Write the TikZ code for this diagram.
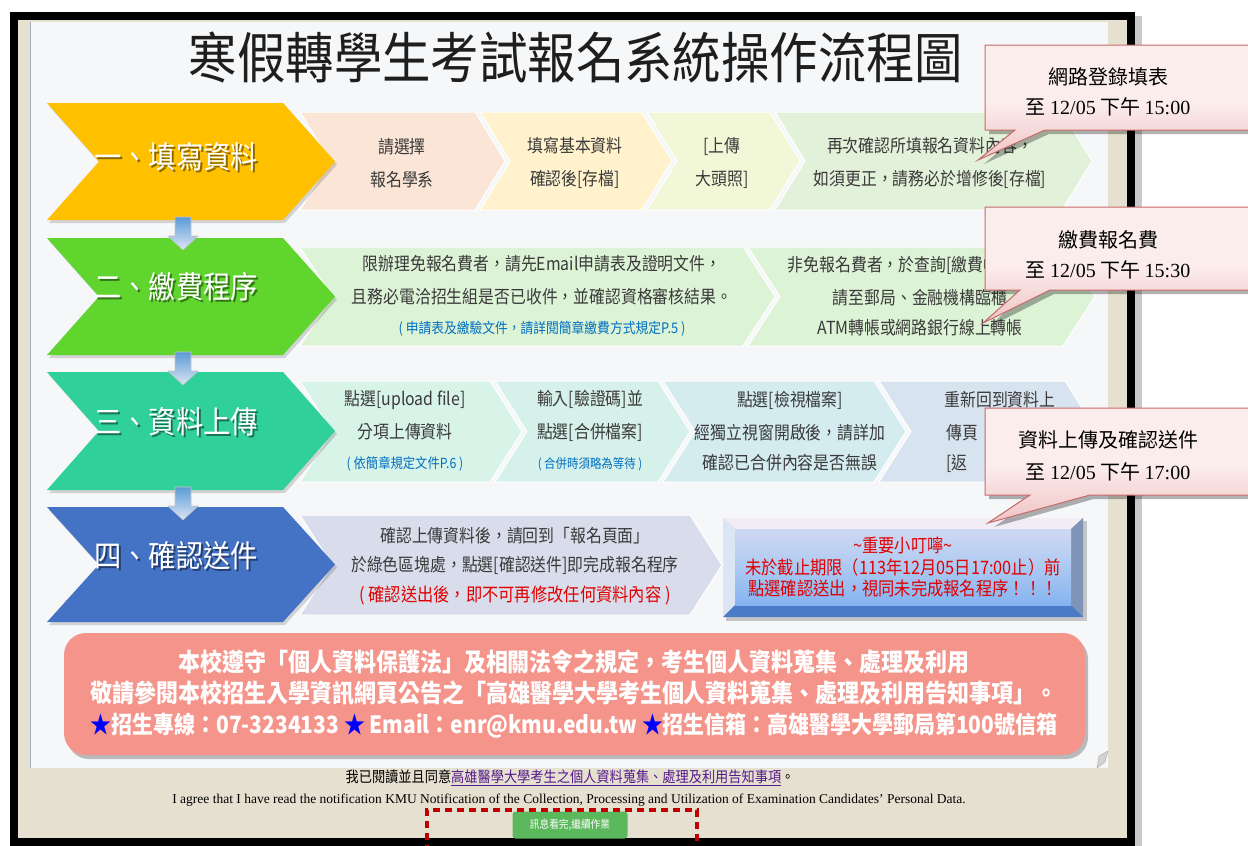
\documentclass[tikz,border=0pt]{standalone}
\usepackage{fontspec}
\setmainfont{Noto Sans CJK TC}
\newfontfamily\cjk{Noto Sans CJK TC}
\newfontfamily\cjkn[FakeStretch=0.88]{Noto Sans CJK TC}
\newfontfamily\tms{Liberation Serif}
\usetikzlibrary{calc}
\definecolor{frameBeige}{HTML}{E5E0D0}
\definecolor{panelBg}{HTML}{F5F7F9}
\definecolor{panelLine}{HTML}{9FB0C4}
\definecolor{bigYellow}{HTML}{FFC000}
\definecolor{bigGreen}{HTML}{5FD52E}
\definecolor{bigTeal}{HTML}{2FD09A}
\definecolor{bigBlue}{HTML}{4472C4}
\definecolor{peach}{HTML}{FBE5D6}
\definecolor{lyellow}{HTML}{FFF2CC}
\definecolor{lygreen}{HTML}{F2F7D7}
\definecolor{lgreen}{HTML}{E2F1D9}
\definecolor{lgreenB}{HTML}{DDF3D6}
\definecolor{mintA}{HTML}{D8F3E8}
\definecolor{mintB}{HTML}{D6F0EA}
\definecolor{cyanA}{HTML}{D4ECF0}
\definecolor{lblueA}{HTML}{D7E3EF}
\definecolor{grayB}{HTML}{D9DDEB}
\definecolor{txt}{HTML}{3A3A3A}
\definecolor{bluetxt}{HTML}{0070C0}
\definecolor{redtxt}{HTML}{E00000}
\definecolor{pinkbox}{HTML}{F4948A}
\definecolor{starblue}{HTML}{0000FF}
\definecolor{linkpurple}{HTML}{551A8B}
\definecolor{btngreen}{HTML}{5CB85C}
\definecolor{dotred}{HTML}{C00000}
\definecolor{callB}{HTML}{E29A9A}
\definecolor{callM}{HTML}{FCEDED}
\definecolor{callT}{HTML}{F5C8C8}
\definecolor{callBorder}{HTML}{C86A6A}
\definecolor{arrowTop}{HTML}{5B9BD5}
\definecolor{arrowBot}{HTML}{DCE6F5}
\definecolor{impBot}{HTML}{5E9EEF}
\definecolor{impMid}{HTML}{B4CDF2}
\definecolor{impTop}{HTML}{F3E6F0}
\definecolor{bevTop}{HTML}{F2ECF5}
\definecolor{bevLeft}{HTML}{DCE5F4}
\definecolor{bevRight}{HTML}{7F94B6}
\definecolor{bevBot}{HTML}{4A7BC5}
\definecolor{titleC}{HTML}{1E1E1E}
\pgfdeclareverticalshading{callsh}{100bp}{color(0bp)=(callB); color(50bp)=(callM); color(80bp)=(callM); color(100bp)=(callT)}
\pgfdeclareverticalshading{impsh}{100bp}{color(0bp)=(impBot); color(55bp)=(impMid); color(100bp)=(impTop)}
\newcommand\mychev[6]{\path[#6] (#1,#3) -- (#2-#5,#3) -- (#2,{(#3+#4)/2}) -- (#2-#5,#4) -- (#1,#4) -- (#1+#5,{(#3+#4)/2}) -- cycle;}
\begin{document}
\begin{tikzpicture}[x=1pt,y=-1pt,
  subtxt/.style={text=txt, align=center, font=\cjkn\fontsize{18}{33}\selectfont, inner sep=0pt},
  bigtxt/.style={text=white, font=\cjkn\fontsize{31}{36}\selectfont, inner sep=0pt},
  bigshadow/.style={text=black, opacity=0.45, font=\cjkn\fontsize{31}{36}\selectfont, inner sep=0pt},
  chevshadow/.style={fill=black, opacity=0.15},
  subchev/.style={draw=white, line width=1},
  blockarrow/.style={top color=arrowTop, bottom color=arrowBot, draw=gray!45, line width=0.6},
  callbox/.style={shading=callsh, draw=callBorder, line width=1},
  callshadow/.style={fill=black, opacity=0.3},
  calltxt/.style={align=center, text=black, inner sep=0pt, font=\cjk\fontsize{20}{30}\selectfont}
]
\useasboundingbox (0,0) rectangle (1248,846);
\fill[white] (0,0) rectangle (1248,846);
% frame
\fill[black!35, opacity=0.6] (1135,16) rectangle (1142,846);
\fill[black] (10,12) rectangle (1135,850);
\fill[frameBeige] (18,20) rectangle (1127,838);
\fill[panelBg] (30,22) rectangle (1108,768);
\draw[panelLine, line width=0.8] (30.5,22) -- (30.5,768);
% title
\node[text=titleC, font=\cjkn\fontsize{55}{60}\selectfont, inner sep=0pt] (title) at (576,58) {寒假轉學生考試報名系統操作流程圖};
% row 1 sub chevrons
\mychev{300}{505}{112}{210}{30}{subchev, fill=peach}
\mychev{480}{672}{112}{210}{30}{subchev, fill=lyellow}
\mychev{647}{800}{112}{210}{30}{subchev, fill=lygreen}
\mychev{775}{1092}{112}{210}{30}{subchev, fill=lgreen}
% row 2
\mychev{300}{775}{247}{346}{32}{subchev, fill=lgreenB}
\mychev{748}{1095}{247}{346}{32}{subchev, fill=lgreenB}
% row 3
\mychev{300}{522}{381}{482}{32}{subchev, fill=mintA}
\mychev{495}{690}{381}{482}{32}{subchev, fill=mintB}
\mychev{663}{906}{381}{482}{32}{subchev, fill=cyanA}
\mychev{879}{1097}{381}{482}{32}{subchev, fill=lblueA}
% row 4
\mychev{300}{722}{515}{615}{32}{subchev, fill=grayB}
% big chevrons
\begin{scope}[shift={(2,3)}]
\mychev{47}{335}{103}{220}{52}{chevshadow}
\mychev{47}{335}{238}{355}{52}{chevshadow}
\mychev{47}{335}{372}{490}{52}{chevshadow}
\mychev{47}{335}{507}{622}{52}{chevshadow}
\end{scope}
\mychev{47}{335}{103}{220}{52}{fill=bigYellow}
\mychev{47}{335}{238}{355}{52}{fill=bigGreen}
\mychev{47}{335}{372}{490}{52}{fill=bigTeal}
\mychev{47}{335}{507}{622}{52}{fill=bigBlue}
% big labels
\node[bigshadow] (s1s) at (178,159) {一、填寫資料};
\node[bigtxt] (s1) at (176,157) {一、填寫資料};
\node[bigshadow] (s2s) at (178,289) {二、繳費程序};
\node[bigtxt] (s2) at (176,287) {二、繳費程序};
\node[bigshadow] (s3s) at (178,424) {三、資料上傳};
\node[bigtxt] (s3) at (176,422) {三、資料上傳};
\node[bigshadow] (s4s) at (178,558) {四、確認送件};
\node[bigtxt] (s4) at (176,556) {四、確認送件};
% down arrows between steps
\coordinate (a1) at (183,217);
\coordinate (a2) at (183,352);
\coordinate (a3) at (183,487);
\foreach \c in {a1,a2,a3}{
  \path[blockarrow, shift={(\c)}] (-8,0) -- (8,0) -- (8,19) -- (15,19) -- (0,33) -- (-15,19) -- (-8,19) -- cycle;
}
% row 1 texts
\node[subtxt] (r1a) at (402,163) {請選擇\\報名學系};
\node[subtxt] (r1b) at (575,163) {填寫基本資料\\確認後[存檔]};
\node[subtxt] (r1c) at (722,163) {[上傳\\大頭照]};
\node[subtxt] (r1d) at (930,163) {再次確認所填報名資料內容，\\如須更正，請務必於增修後[存檔]};
% row 2 texts
\node[subtxt] (r2a) at (542,296) {限辦理免報名費者，請先Email申請表及證明文件，\\且務必電洽招生組是否已收件，並確認資格審核結果。\\[-3pt]{\color{bluetxt}\fontsize{14.5}{30}\selectfont ( 申請表及繳驗文件，請詳閱簡章繳費方式規定P.5 )}};
\node[subtxt] (r2b) at (920,296) {非免報名費者，於查詢[繳費帳號]後，\\請至郵局、金融機構臨櫃\\[-3pt]ATM轉帳或網路銀行線上轉帳};
% row 3 texts
\node[subtxt] (r3a) at (405,431) {點選[upload file]\\分項上傳資料\\[-3pt]{\color{bluetxt}\fontsize{14}{30}\selectfont ( 依簡章規定文件P.6 )}};
\node[subtxt] (r3b) at (590,431) {輸入[驗證碼]並\\點選[合併檔案]\\[-3pt]{\color{bluetxt}\fontsize{13}{30}\selectfont ( 合併時須略為等待 )}};
\node[subtxt] (r3c) at (790,431) {點選[檢視檔案]\\經獨立視窗開啟後，請詳加\\[-3pt]確認已合併內容是否無誤};
\node[subtxt] (r3d) at (1000,400) {重新回到資料上};
\node[subtxt, anchor=west, align=left] (r3e) at (946,448) {傳頁\\[-3pt][返};
% row 4 texts
\node[subtxt] (r4a) at (515,566) {確認上傳資料後，請回到「報名頁面」\\[-4pt]於綠色區塊處，點選[確認送件]即完成報名程序\\[-3pt]{\color{redtxt}\fontsize{18.5}{30}\selectfont ( 確認送出後，即不可再修改任何資料內容 )}};
% important box
\fill[black, opacity=0.2] (726,521) rectangle (1087,621);
\fill[bevTop] (723,518) -- (1083,518) -- (1071,529) -- (735,529) -- cycle;
\fill[bevLeft] (723,518) -- (735,529) -- (735,605) -- (723,617) -- cycle;
\fill[bevRight] (1083,518) -- (1083,617) -- (1071,605) -- (1071,529) -- cycle;
\fill[bevBot] (723,617) -- (1083,617) -- (1071,605) -- (735,605) -- cycle;
\shade[shading=impsh] (735,529) rectangle (1071,605);
\node[align=center, text=redtxt, inner sep=0pt, font=\cjkn\fontsize{18.5}{21.5}\selectfont] (imp) at (903,567) {\textasciitilde 重要小叮嚀\textasciitilde\\未於截止期限（113年12月05日17:00止）前\\點選確認送出，視同未完成報名程序！！！};
% pink notice box
\fill[black, opacity=0.25, rounded corners=22] (67,637) rectangle (1088,759);
\fill[pinkbox, rounded corners=22] (64,633) rectangle (1085,755);
\node[align=center, text=white, inner sep=0pt, font=\cjkn\bfseries\fontsize{25}{31}\selectfont] (notice) at (574,694) {本校遵守「個人資料保護法」及相關法令之規定，考生個人資料蒐集、處理及利用\\敬請參閱本校招生入學資訊網頁公告之「高雄醫學大學考生個人資料蒐集、處理及利用告知事項」。\\{\fontsize{23.8}{31}\selectfont{\color{starblue}★}招生專線：07-3234133 {\color{starblue}★} Email：enr@kmu.edu.tw {\color{starblue}★}招生信箱：高雄醫學大學郵局第100號信箱}};
% page curl mark
\path[fill=gray!35, draw=gray!60, line width=0.5] (1097,768) -- (1099,756) -- (1108,751) -- (1105,762) -- cycle;
% agreement lines
\node[inner sep=0pt, text=black, font=\cjkn\fontsize{15}{18}\selectfont] (agree) at (570,778) {我已閱讀並且同意{\color{linkpurple}\underline{高雄醫學大學考生之個人資料蒐集、處理及利用告知事項}}。};
\node[inner sep=0pt, text=black, font=\tms\fontsize{13.5}{15}\selectfont] (agreeEn) at (569,800) {I agree that I have read the notification KMU Notification of the Collection, Processing and Utilization of Examination Candidates’ Personal Data.};
% button
\node[fill=btngreen, rounded corners=3, minimum width=115, minimum height=27, inner sep=0pt, text=white, font=\cjkn\fontsize{11}{12}\selectfont] (btn) at (570,825) {訊息看完,繼續作業};
\draw[dotred, line width=4, dash pattern=on 7 off 5] (427,852) -- (427,810) -- (697,810) -- (697,852);
% callouts
\path[callshadow] (989,49) -- (1270,49) -- (1270,134) -- (1049,134) -- (984,164) -- (1019,134) -- (989,134) -- cycle;
\path[callbox] (985,45) -- (1265,45) -- (1265,130) -- (1045,130) -- (978,160) -- (1015,130) -- (985,130) -- cycle;
\node[calltxt] (c1) at (1108,92) {網路登錄填表\\至 {\tms 12/05} 下午 {\tms 15:00}};
\path[callshadow] (989,211) -- (1270,211) -- (1270,294) -- (1054,294) -- (989,327) -- (1024,294) -- (989,294) -- cycle;
\path[callbox] (985,207) -- (1265,207) -- (1265,290) -- (1050,290) -- (983,323) -- (1020,290) -- (985,290) -- cycle;
\node[calltxt] (c2) at (1108,255) {繳費報名費\\至 {\tms 12/05} 下午 {\tms 15:30}};
\path[callshadow] (989,412) -- (1270,412) -- (1270,499) -- (1094,499) -- (994,527) -- (1034,499) -- (989,499) -- cycle;
\path[callbox] (985,408) -- (1265,408) -- (1265,495) -- (1090,495) -- (988,523) -- (1030,495) -- (985,495) -- cycle;
\node[calltxt, font=\cjk\fontsize{20}{32}\selectfont] (c3) at (1108,456) {資料上傳及確認送件\\至 {\tms 12/05} 下午 {\tms 17:00}};
\end{tikzpicture}
\end{document}
